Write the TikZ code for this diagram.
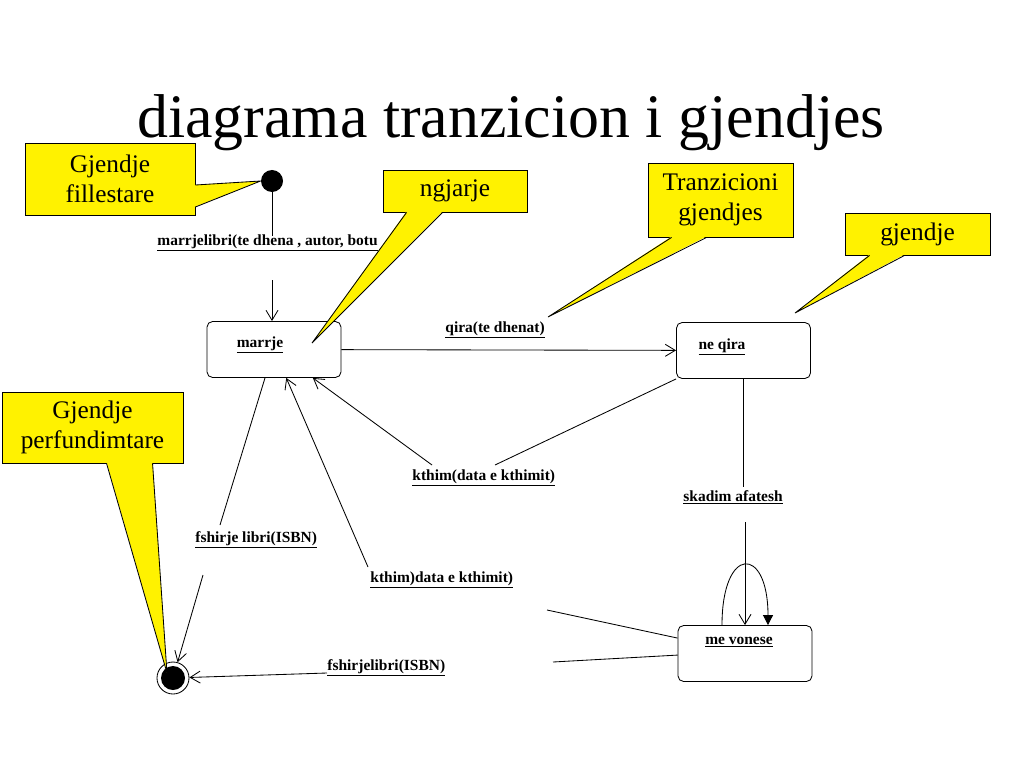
\documentclass[tikz,border=0pt]{standalone}
\usepackage{fontspec}
\setmainfont{Liberation Serif}
\usetikzlibrary{positioning, calc, arrows.meta}

\tikzset{
  state/.style={draw, rounded corners=4pt, minimum width=3.35cm, minimum height=1.4cm},
  sttext/.style={font=\fontsize{11}{13}\selectfont\bfseries, inner sep=0pt, anchor=base},
  lbl/.style={font=\fontsize{11}{13}\selectfont\bfseries, inner sep=0pt, anchor=base west},
  note/.style={draw, fill=yellow, align=center, font=\fontsize{18}{21}\selectfont},
  arr/.style={-{Straight Barb[length=2.5mm,width=3mm]}},
}

\begin{document}
\begin{tikzpicture}[x=0.025cm, y=-0.025cm, line width=0.6pt]
        \useasboundingbox (0,0) rectangle (1024,768);

        \node[font=\fontsize{44}{50}\selectfont, anchor=base] (title) at (511,138) {diagrama tranzicion i gjendjes};

        % states
        \node[circle, fill=black, minimum size=0.55cm, inner sep=0pt] (init) at (272,181) {};
        \node[state] (marrje) at (274,349.5) {};
        \node[state] (neqira) at (743.5,350.5) {};
        \node[state] (mevonese) at (745,653.5) {};
        \node[circle, draw, minimum size=0.8cm, inner sep=0pt] (final) at (173,678) {};
        \node[circle, fill=black, minimum size=0.6cm, inner sep=0pt] (finalin) at (final) {};

        \node[sttext] (tmarrje) at (260,347) {\underline{marrje}};
        \node[sttext] (tneqira) at (722,349) {\underline{ne qira}};
        \node[sttext] (tmevonese) at (739,644) {\underline{me vonese}};

        % transition labels
        \node[lbl] (lmarr) at (157,245) {\underline{marrjelibri(te dhena , autor, botu}};
        \node[lbl] (lqira) at (445,332) {\underline{qira(te dhenat)}};
        \node[lbl] (lkthim) at (412,480) {\underline{kthim(data e kthimit)}};
        \node[lbl] (lkthimb) at (370,582) {\underline{kthim)data e kthimit)}};
        \node[lbl] (lfshirje) at (195,542) {\underline{fshirje libri(ISBN)}};
        \node[lbl] (lfshirjeb) at (327,670) {\underline{fshirjelibri(ISBN)}};
        \node[lbl] (lskadim) at (683,501) {\underline{skadim afatesh}};

        \coordinate (a1) at (272,236);
        \coordinate (a2) at (272,280);
        \coordinate (k1) at (495,465);
        \coordinate (k2) at (432,465);
        \coordinate (s1) at (743.5,487);
        \coordinate (s2) at (745,522);
        \coordinate (v1) at (547,610);
        \coordinate (v2) at (368,567);
        \coordinate (f1) at (553,662);
        \coordinate (f2) at (327,673);
        \coordinate (g1) at (220,525);
        \coordinate (g2) at (203,575);

        % transitions
        \draw (init) -- (a1);
        \draw[arr] (a2) -- (a2 |- marrje.north);
        \draw[arr] (marrje) -- (neqira);
        \draw (neqira.south west) -- (k1);
        \draw[arr] (k2) -- (marrje);
        \draw (neqira.south) -- (s1);
        \draw[arr] (s2) -- (mevonese.north);
        \draw[-{Triangle[length=2.5mm,width=2.5mm]}] ($(mevonese.north)+(-23,0)$)
            .. controls ($(mevonese.north)+(-23,-80)$) and ($(mevonese.north)+(23,-80)$) .. ($(mevonese.north)+(23,0)$);
        \draw ($(mevonese.north west)+(0,13)$) -- (v1);
        \draw[arr] (v2) -- (marrje);
        \draw ($(mevonese.north west)+(0,30)$) -- (f1);
        \draw[arr] (f2) -- (final);
        \draw ($(marrje.south)+(-9,0)$) -- (g1);
        \draw[arr] (g2) -- (final);

        % notes
        \coordinate (tipng) at (312,343);
        \coordinate (tiptr) at (548,317);
        \coordinate (tipgd) at (795,313);
        \coordinate (tippf) at (167,673);

        \node[note, minimum width=4.25cm, minimum height=1.8cm] (nfill) at (110,179) {Gjendje\\fillestare};
        \fill[yellow] ($(nfill.east)+(-1,6)$) -- (init.west) -- ($(nfill.east)+(-1,28)$) -- cycle;
        \draw ($(nfill.east)+(0,6)$) -- (init.west) -- ($(nfill.east)+(0,28)$);

        \node[note, minimum width=3.6cm, minimum height=1.05cm] (nngj) at (455,191) {ngjarje};
        \fill[yellow] ($(nngj.south west)+(24,-1)$) -- (tipng) -- ($(nngj.south west)+(60,-1)$) -- cycle;
        \draw ($(nngj.south west)+(24,0)$) -- (tipng) -- ($(nngj.south west)+(60,0)$);

        \node[note, minimum width=3.625cm, minimum height=1.85cm] (ntr) at (720.5,200) {Tranzicioni\\gjendjes};
        \fill[yellow] ($(ntr.south west)+(24,-1)$) -- (tiptr) -- ($(ntr.south west)+(59,-1)$) -- cycle;
        \draw ($(ntr.south west)+(24,0)$) -- (tiptr) -- ($(ntr.south west)+(59,0)$);

        \node[note, minimum width=3.625cm, minimum height=1.05cm] (ngd) at (917.5,234) {gjendje};
        \fill[yellow] ($(ngd.south west)+(25,-1)$) -- (tipgd) -- ($(ngd.south west)+(60,-1)$) -- cycle;
        \draw ($(ngd.south west)+(25,0)$) -- (tipgd) -- ($(ngd.south west)+(60,0)$);

        \node[note, minimum width=4.525cm, minimum height=1.775cm] (nperf) at (92.5,427.5) {Gjendje\\perfundimtare};
        \fill[yellow] ($(nperf.south west)+(105,-1)$) -- (tippf) -- ($(nperf.south west)+(151,-1)$) -- cycle;
        \draw ($(nperf.south west)+(105,0)$) -- (tippf) -- ($(nperf.south west)+(151,0)$);
\end{tikzpicture}
\end{document}
